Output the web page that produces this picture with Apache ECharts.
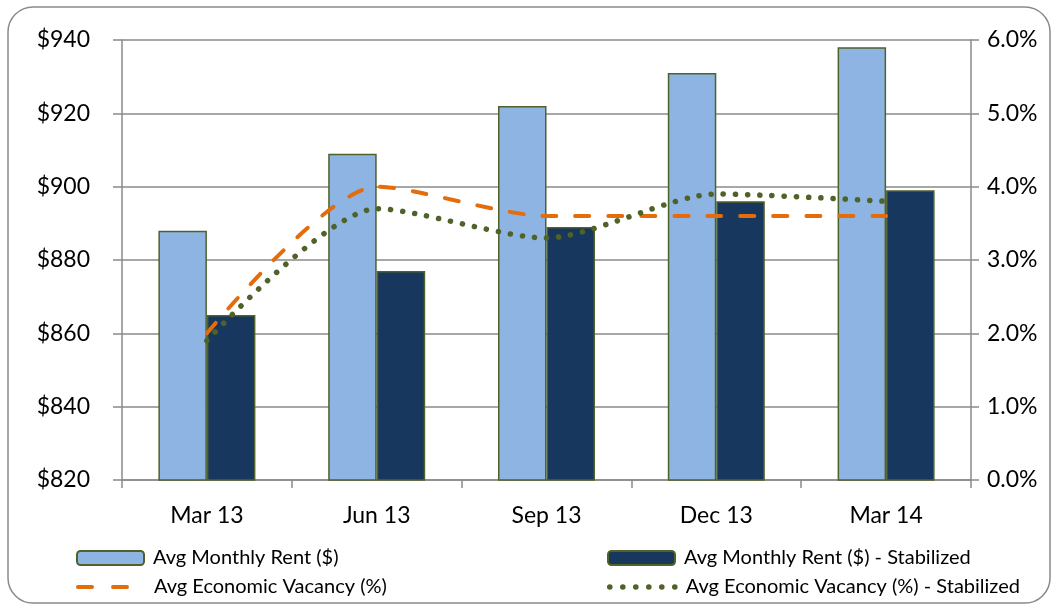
<!DOCTYPE html>
<html><head><meta charset="utf-8">
<script src="https://cdn.jsdelivr.net/npm/echarts@6/dist/echarts.min.js"></script>
<style>html,body{margin:0;padding:0;background:#fff}#c{width:1057px;height:610px}</style>
</head><body><div id="c"></div>
<script>
var categories = ['Mar 13', 'Jun 13', 'Sep 13', 'Dec 13', 'Mar 14'];
var rent = [888, 909, 922, 931, 938];
var rentStabilized = [865, 877, 889, 896, 899];
var vacancy = [2.0, 4.0, 3.6, 3.6, 3.6];
var vacancyStabilized = [1.9, 3.7, 3.3, 3.9, 3.8];
var seriesNames = ['Avg Monthly Rent ($)', 'Avg Monthly Rent ($) - Stabilized', 'Avg Economic Vacancy (%)', 'Avg Economic Vacancy (%) - Stabilized'];

var FONT = 'Lato';
var GRAY = '#8a8a8a';
var ORANGE = '#E46C0A';
var GREEN = '#4F6228';
var chart = echarts.init(document.getElementById('c'));
function lg(name, left, top, lineStyle) {
  var o = {
    data: [name], left: left, top: top, orient: 'horizontal', padding: 0,
    itemWidth: 67, itemHeight: 14, selectedMode: false,
    textStyle: {fontFamily: FONT, fontSize: 20, color: '#000', padding: [0, 0, 0, 4]}
  };
  if (lineStyle) {
    o.itemStyle = {color: 'rgba(0,0,0,0)', borderWidth: 0, opacity: 0};
    o.lineStyle = lineStyle;
  }
  return o;
}
chart.setOption({
  animation: false,
  textStyle: {fontFamily: FONT},
  graphic: [{
    type: 'rect', shape: {x: 8, y: 7, width: 1042, height: 596, r: 25},
    style: {fill: 'none', stroke: GRAY, lineWidth: 1.5}, silent: true
  }],
  grid: {left: 122, right: 86, top: 40, height: 440, containLabel: false},
  legend: [
    lg(seriesNames[0], 76, 548),
    lg(seriesNames[1], 607, 548),
    lg(seriesNames[2], 76, 577, {color: ORANGE, width: 4, type: [14, 21], cap: 'round', opacity: 1}),
    lg(seriesNames[3], 607, 577, {color: GREEN, width: 5.5, type: [0.1, 12.9], cap: 'round', opacity: 1})
  ],
  xAxis: {
    type: 'category', data: categories, boundaryGap: true,
    axisLine: {lineStyle: {color: GRAY, width: 1.5}},
    axisTick: {show: true, length: 8, lineStyle: {color: GRAY, width: 1.5}},
    axisLabel: {fontFamily: FONT, fontSize: 23, color: '#000', margin: 24}
  },
  yAxis: [{
    type: 'value', min: 820, max: 940, interval: 20, position: 'left',
    axisLine: {show: true, lineStyle: {color: GRAY, width: 1.5}},
    axisTick: {show: true, length: 9, lineStyle: {color: GRAY, width: 1.5}},
    splitLine: {show: true, lineStyle: {color: GRAY, width: 1.5}},
    axisLabel: {fontFamily: FONT, fontSize: 23, color: '#000', margin: 32, formatter: function (v) { return '$' + v; }}
  }, {
    type: 'value', min: 0, max: 6, interval: 1, position: 'right',
    axisLine: {show: true, lineStyle: {color: GRAY, width: 1.5}},
    axisTick: {show: true, length: 8, lineStyle: {color: GRAY, width: 1.5}},
    splitLine: {show: false},
    axisLabel: {fontFamily: FONT, fontSize: 23, color: '#000', margin: 16, formatter: function (v) { return v.toFixed(1) + '%'; }}
  }],
  series: [{
    name: seriesNames[0], type: 'bar', data: rent, yAxisIndex: 0,
    barWidth: 48.5, barGap: '0%',
    itemStyle: {color: '#8DB4E2', borderColor: GREEN, borderWidth: 1.5}
  }, {
    name: seriesNames[1], type: 'bar', data: rentStabilized, yAxisIndex: 0,
    barWidth: 48.5, barGap: '0%',
    itemStyle: {color: '#17375E', borderColor: GREEN, borderWidth: 1.5}
  }, {
    name: seriesNames[2], type: 'line', data: vacancy, yAxisIndex: 1,
    symbol: 'none', smooth: 0.25, z: 5,
    itemStyle: {color: ORANGE},
    lineStyle: {color: ORANGE, width: 4, type: [14, 19], cap: 'round'}
  }, {
    name: seriesNames[3], type: 'line', data: vacancyStabilized, yAxisIndex: 1,
    symbol: 'none', smooth: 0.25, z: 5,
    itemStyle: {color: GREEN},
    lineStyle: {color: GREEN, width: 5.5, type: [0.1, 12.1], cap: 'round'}
  }]
});
</script></body></html>
